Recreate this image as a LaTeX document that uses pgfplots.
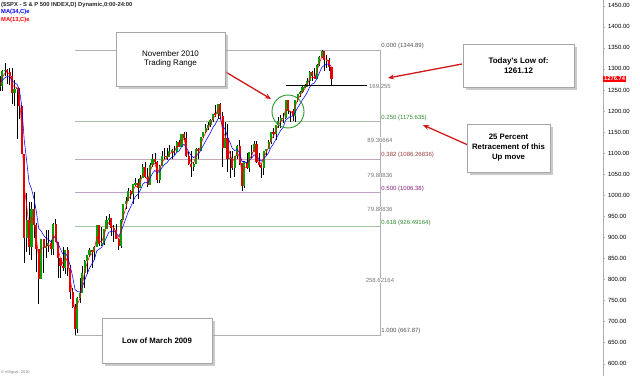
\documentclass[border=0pt]{standalone}
\usepackage{fontspec}
\setmainfont{Liberation Sans}
\usepackage{pgfplots}
\pgfplotsset{compat=1.18}
\usepackage{pgfplotstable}
\usetikzlibrary{shadows,arrows.meta}

\definecolor{upg}{HTML}{00A000}
\definecolor{dnr}{HTML}{E00000}
\definecolor{fibgray}{HTML}{B0B0B0}
\definecolor{fibA}{HTML}{A8C0A8}
\definecolor{fibB}{HTML}{C4A8B8}
\definecolor{fibC}{HTML}{C0A0C8}
\definecolor{fibD}{HTML}{A0C8A0}
\definecolor{txtgray}{HTML}{505050}
\definecolor{midgray}{HTML}{787878}
\definecolor{txtA}{HTML}{2E8B2E}
\definecolor{txtB}{HTML}{A04040}
\definecolor{txtC}{HTML}{802080}
\definecolor{arrowred}{HTML}{D01818}
\definecolor{circgreen}{HTML}{2A9A2A}

% weekly candles: k = week index (x pixel = 2.42 k), o h l c, EMA34 and EMA13 (estimated)
\pgfplotstableread{
k o h l c e34 e13
0 1257 1284 1247 1260 1265 1262
1 1260 1297 1247 1296 1273 1280
2 1296 1313 1283 1298 1279 1290
3 1298 1300 1263 1292 1282 1291
4 1292 1303 1262 1283 1283 1287
5 1283 1303 1217 1242 1272 1263
6 1242 1274 1212 1252 1267 1257
7 1252 1255 1133 1255 1264 1256
8 1255 1255 1180 1213 1251 1233
9 1213 1214 1097 1099 1212 1161
10 1099 1099 839 899 1132 1020
11 899 1006 866 940 1083 977
12 940 985 858 876 1030 923
13 876 984 845 968 1015 947
14 968 1007 899 930 993 938
15 930 934 818 873 962 903
16 873 873 741 800 921 848
17 800 897 800 896 915 874
18 896 896 815 876 905 875
19 876 918 851 879 898 877
20 879 918 866 887 895 882
21 887 893 857 872 889 877
22 872 934 857 931 900 906
23 931 943 888 890 898 897
24 890 890 804 850 885 872
25 850 851 804 831 872 850
26 831 877 821 826 860 837
27 826 870 812 869 862 854
28 869 876 808 827 853 840
29 827 835 754 770 832 802
30 770 780 731 735 807 766
31 735 741 667.87 683 776 721
32 683 758 672 757 771 741
33 757 804 744 768 770 755
34 768 832 768 816 782 788
35 816 845 779 843 798 818
36 843 857 814 857 813 839
37 857 875 853 870 827 856
38 870 871 826 866 837 861
39 866 880 845 877 847 870
40 877 930 877 929 868 902
41 929 930 879 883 872 892
42 883 925 879 887 876 889
43 887 920 881 919 887 905
44 919 951 919 940 900 924
45 940 956 930 946 912 936
46 946 946 903 921 914 928
47 921 930 888 918 915 923
48 918 931 895 896 910 908
49 896 898 869 879 902 893
50 879 943 875 940 912 918
51 940 980 940 979 929 951
52 979 996 968 987 944 970
53 987 1018 987 1010 961 992
54 1010 1013 990 1004 972 998
55 1004 1027 978 1026 986 1013
56 1026 1040 1021 1029 997 1022
57 1029 1039 991 1016 1002 1019
58 1016 1048 1016 1042 1012 1031
59 1042 1074 1041 1068 1026 1051
60 1068 1080 1041 1044 1031 1047
61 1044 1064 1020 1025 1029 1035
62 1025 1076 1025 1071 1040 1055
63 1071 1097 1067 1087 1052 1072
64 1087 1101 1074 1080 1059 1076
65 1080 1081 1030 1036 1053 1055
66 1036 1071 1029 1069 1057 1062
67 1069 1105 1069 1093 1066 1079
68 1093 1113 1086 1091 1073 1085
69 1091 1112 1083 1091 1077 1088
70 1091 1119 1091 1106 1085 1098
71 1106 1110 1085 1106 1090 1102
72 1106 1117 1095 1102 1093 1102
73 1102 1128 1102 1127 1102 1116
74 1127 1130 1115 1115 1105 1115
75 1115 1145 1115 1145 1115 1131
76 1145 1150 1131 1136 1121 1134
77 1136 1150 1090 1092 1113 1111
78 1092 1103 1071 1074 1103 1091
79 1074 1104 1044 1066 1094 1078
80 1066 1080 1057 1075 1089 1076
81 1075 1112 1075 1109 1094 1094
82 1109 1112 1086 1105 1097 1100
83 1105 1139 1105 1139 1108 1121
84 1139 1150 1136 1150 1118 1137
85 1150 1170 1147 1160 1129 1149
86 1160 1174 1155 1167 1139 1159
87 1167 1181 1161 1179 1149 1170
88 1179 1194 1175 1194 1161 1183
89 1194 1214 1186 1192 1169 1188
90 1192 1217 1180 1217 1181 1204
91 1217 1219 1181 1187 1183 1195
92 1187 1197 1066 1111 1164 1150
93 1111 1174 1111 1136 1157 1142
94 1136 1170 1055 1087 1139 1113
95 1087 1105 1040 1089 1126 1100
96 1089 1105 1060 1064 1111 1081
97 1064 1092 1043 1092 1106 1087
98 1092 1120 1085 1117 1109 1103
99 1117 1131 1071 1076 1100 1089
100 1076 1076 1010 1022 1080 1053
101 1022 1078 1018 1078 1080 1066
102 1078 1100 1063 1065 1076 1066
103 1065 1103 1056 1102 1083 1085
104 1102 1120 1088 1102 1088 1094
105 1102 1128 1102 1122 1096 1109
106 1122 1129 1076 1079 1092 1093
107 1079 1100 1068 1071 1087 1081
108 1071 1075 1040 1065 1081 1073
109 1065 1105 1047 1105 1087 1090
110 1105 1110 1092 1110 1093 1101
111 1110 1131 1110 1126 1101 1114
112 1126 1149 1122 1149 1114 1133
113 1149 1160 1136 1146 1122 1140
114 1146 1167 1131 1166 1133 1154
115 1166 1185 1160 1176 1144 1166
116 1176 1190 1159 1183 1154 1175
117 1183 1196 1171 1183 1161 1179
118 1183 1227 1180 1225 1178 1204
119 1225 1227 1194 1199 1183 1201
120 1199 1200 1173 1199 1187 1200
121 1199 1204 1176 1189 1188 1194
122 1189 1225 1174 1225 1197 1211
123 1225 1240 1222 1240 1208 1227
124 1240 1247 1233 1244 1217 1236
125 1244 1260 1242 1257 1227 1247
126 1257 1263 1254 1258 1235 1253
127 1258 1278 1258 1272 1245 1263
128 1272 1294 1262 1293 1257 1279
129 1293 1296 1271 1283 1264 1281
130 1283 1302 1275 1276 1267 1278
131 1276 1311 1276 1310 1278 1295
132 1310 1330 1307 1329 1291 1314
133 1329 1344.89 1326 1343 1304 1329
134 1343 1343 1294 1320 1308 1324
135 1320 1333 1303 1321 1312 1323
136 1321 1325 1295 1304 1310 1313
137 1304 1304 1261.12 1276.74 1306 1303
}\spx

\newcommand{\fibfont}{\fontsize{6}{6.5}\selectfont}

\begin{document}
\begin{tikzpicture}
\useasboundingbox (0pt,0pt) rectangle (640pt,376pt);
\begin{axis}[
  at={(0pt,0pt)}, anchor=south west,
  width=603pt, height=376pt, scale only axis,
  xmin=0, xmax=249.17, ymin=570.55, ymax=1463.65,
  axis x line=none,
  axis y line*=right,
  y axis line style={fibgray},
  ytick={600,650,...,1450},
  major tick length=1.5pt,
  tick align=outside,
  tick style={fibgray},
  yticklabel style={font=\fontsize{6}{6.5}\selectfont, text=black,
    /pgf/number format/.cd, fixed, fixed zerofill, precision=2, 1000 sep={}, assume math mode=true},
]
% Fibonacci levels
\addplot[fibgray, line width=0.5pt, no markers] coordinates {(31,1344.89) (157,1344.89)};
\addplot[fibA, line width=0.6pt, no markers] coordinates {(31,1175.635) (157,1175.635)};
\addplot[fibB, line width=0.6pt, no markers] coordinates {(31,1086.26836) (157,1086.26836)};
\addplot[fibC, line width=0.6pt, no markers] coordinates {(31,1006.38) (157,1006.38)};
\addplot[fibD, line width=0.6pt, no markers] coordinates {(31,926.49164) (157,926.49164)};
\addplot[fibgray, line width=0.5pt, no markers] coordinates {(31,667.87) (157,667.87)};
\addplot[fibgray, line width=0.5pt, mark=-, mark size=1.5pt, mark options={fibgray}]
  coordinates {(157,1344.89) (157,1175.635) (157,1086.26836) (157,1006.38) (157,926.49164) (157,667.87)};

% wicks
\addplot[draw=none, no markers, error bars/.cd, y dir=both, y explicit, error mark=none,
  error bar style={line width=0.6pt, black}]
  table[x=k, y expr={(\thisrow{h}+\thisrow{l})/2}, y error expr={(\thisrow{h}-\thisrow{l})/2}] {\spx};
% up bodies
\addplot[draw=none, no markers, error bars/.cd, y dir=both, y explicit, error mark=none,
  error bar style={line width=2.1pt, upg}]
  table[x=k, y expr={\thisrow{c}>=\thisrow{o} ? (\thisrow{o}+\thisrow{c})/2 : 0},
        y error expr={max(abs(\thisrow{c}-\thisrow{o})/2,1.5)}] {\spx};
% down bodies
\addplot[draw=none, no markers, error bars/.cd, y dir=both, y explicit, error mark=none,
  error bar style={line width=2.1pt, dnr}]
  table[x=k, y expr={\thisrow{c}<\thisrow{o} ? (\thisrow{o}+\thisrow{c})/2 : 0},
        y error expr={max(abs(\thisrow{c}-\thisrow{o})/2,1.5)}] {\spx};

% moving averages
\addplot[blue, line width=0.55pt, no markers] table[x=k, y=e34] {\spx};
\addplot[red, line width=0.55pt, no markers] table[x=k, y=e13] {\spx};

% today's low line
\addplot[black, line width=1.2pt, no markers] coordinates {(118.2,1261.12) (151.7,1261.12)};

\coordinate (f0) at (axis cs:157.3,1344.89);
\coordinate (f1) at (axis cs:157.3,1175.635);
\coordinate (f2) at (axis cs:157.3,1086.26836);
\coordinate (f3) at (axis cs:157.3,1006.38);
\coordinate (f4) at (axis cs:157.3,926.49164);
\coordinate (f5) at (axis cs:157.3,667.87);
\coordinate (m1) at (axis cs:157,1258.5);
\coordinate (m2) at (axis cs:157,1130.95);
\coordinate (m3) at (axis cs:157,1046.32);
\coordinate (m4) at (axis cs:157,966.44);
\coordinate (m5) at (axis cs:157,797.18);
\coordinate (lastp) at (axis cs:249.17,1276.74);
\end{axis}

% fib labels
\node[anchor=south west, inner sep=0.6pt, text=txtgray, font=\fibfont] at (f0) {0.000 (1344.89)};
\node[anchor=south west, inner sep=0.6pt, text=txtA, font=\fibfont] at (f1) {0.250 (1175.635)};
\node[anchor=south west, inner sep=0.6pt, text=txtB, font=\fibfont] at (f2) {0.382 (1086.26836)};
\node[anchor=south west, inner sep=0.6pt, text=txtC, font=\fibfont] at (f3) {0.500 (1006.38)};
\node[anchor=south west, inner sep=0.6pt, text=txtA, font=\fibfont] at (f4) {0.618 (926.49164)};
\node[anchor=south west, inner sep=0.6pt, text=txtgray, font=\fibfont] at (f5) {1.000 (667.87)};
\node[inner sep=0.5pt, fill=white, text=midgray, font=\fibfont] at (m2) {89.36664};
\node[inner sep=0.5pt, fill=white, text=midgray, font=\fibfont] at (m3) {79.88836};
\node[inner sep=0.5pt, fill=white, text=midgray, font=\fibfont] at (m4) {79.88836};
\node[inner sep=0.5pt, fill=white, text=midgray, font=\fibfont] at (m5) {258.62164};
\node[inner sep=0.5pt, text=midgray, font=\fibfont] at (m1) {169.255};

% current price tag
\node[fill=red, text=white, font=\bfseries\fontsize{5.8}{6}\selectfont, inner sep=0.9pt, anchor=west] at (lastp) {1276.74};

% header
\node[anchor=west, inner sep=0pt, font=\bfseries\fontsize{5.8}{6}\selectfont, text=black!85] at (1pt,371pt) {(\$SPX - S \& P 500 INDEX,D) Dynamic,0:00-24:00};
\node[anchor=west, inner sep=0pt, font=\bfseries\fontsize{5.8}{6}\selectfont, text=blue] at (1pt,363.5pt) {MA(34,C)e};
\node[anchor=west, inner sep=0pt, font=\bfseries\fontsize{5.8}{6}\selectfont, text=red] at (1pt,356pt) {MA(13,C)e};
\node[anchor=west, inner sep=0pt, font=\fontsize{4}{4}\selectfont, text=gray] at (1pt,3.5pt) {\textcopyright\ eSignal, 2010};

% green circle
\draw[circgreen, line width=0.9pt] (288pt,264.5pt) ellipse [x radius=16pt, y radius=16.5pt];

% arrows
\draw[-{Stealth[length=6pt,width=5pt]}, arrowred, line width=1.3pt] (224pt,305pt) -- (271pt,277pt);
\draw[-{Stealth[length=6pt,width=5pt]}, arrowred, line width=1.3pt] (462pt,312pt) -- (388pt,298pt);
\draw[-{Stealth[length=6pt,width=5pt]}, arrowred, line width=1.3pt] (468pt,231pt) -- (423pt,251pt);

% annotation boxes
\tikzset{annot/.style={draw=gray!70, fill=white, line width=0.5pt,
  drop shadow={shadow xshift=2.5pt, shadow yshift=-2.5pt, fill=gray!70, opacity=0.6},
  align=center, inner sep=0pt}}
\node[annot, minimum width=109pt, minimum height=54pt, font=\fontsize{8}{9.5}\selectfont] at (170.5pt,317pt) {November 2010\\Trading Range};
\node[annot, minimum width=111pt, minimum height=43pt, font=\bfseries\fontsize{8}{10}\selectfont] at (518.5pt,310.5pt) {Today's Low of:\\1261.12};
\node[annot, minimum width=83pt, minimum height=48pt, font=\bfseries\fontsize{7.8}{10}\selectfont] at (508.5pt,228pt) {25 Percent\\Retracement of this\\Up move};
\node[annot, minimum width=110pt, minimum height=45pt, font=\bfseries\fontsize{7.8}{9}\selectfont] at (157pt,35.5pt) {Low of March 2009};
\end{tikzpicture}
\end{document}
